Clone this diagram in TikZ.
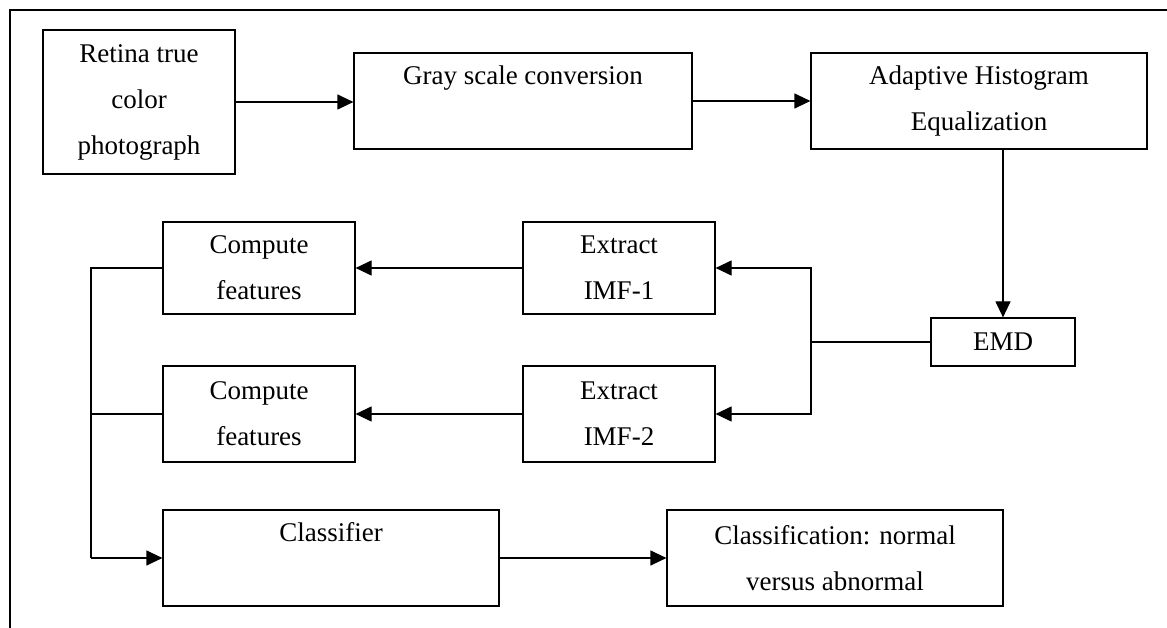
\documentclass[tikz,border=0pt]{standalone}
\usepackage{fontspec}
\setmainfont{Liberation Serif}
\usetikzlibrary{arrows.meta}
\begin{document}
\begin{tikzpicture}[x=1pt,y=-1pt,
  box/.style={draw, line width=1.2pt, inner sep=0pt, align=center,
    font=\fontsize{27pt}{46pt}\selectfont},
  conn/.style={line width=1.2pt},
  arr/.style={conn, -{Triangle[length=16pt,width=15pt]}}]
\useasboundingbox (0,0) rectangle (1167,628);
\draw[line width=1.3pt] (10,628) -- (10,10) -- (1167,10);
\node[box, minimum width=192pt, minimum height=144pt] (retina) at (139,102) {Retina true\\color\\photograph};
\node[box, minimum width=338pt, minimum height=96pt] (gray) at (523,101) {Gray scale conversion\\\phantom{Gy}};
\node[box, minimum width=336pt, minimum height=96pt] (ahe) at (979,101) {Adaptive Histogram\\Equalization};
\node[box, minimum width=144pt, minimum height=48pt] (emd) at (1003,342) {EMD};
\node[box, minimum width=192pt, minimum height=92pt] (ex1) at (619,268) {Extract\\IMF-1};
\node[box, minimum width=192pt, minimum height=96pt] (ex2) at (619,414) {Extract\\IMF-2};
\node[box, minimum width=192pt, minimum height=92pt] (cf1) at (259,268) {Compute\\features};
\node[box, minimum width=192pt, minimum height=96pt] (cf2) at (259,414) {Compute\\features};
\node[box, minimum width=336pt, minimum height=96pt] (cls) at (331,558) {Classifier\\\phantom{Gy}};
\node[box, minimum width=336pt, minimum height=96pt] (res) at (835,558) {Classification: normal\\versus abnormal};
\coordinate (bus) at (811,342);
\coordinate (lb) at (91,558);
\draw[arr] (retina.east) -- (retina.east -| gray.west);
\draw[arr] (gray) -- (ahe);
\draw[arr] (emd.north |- ahe.south) -- (emd.north);
\draw[conn] (emd.west) -- (bus);
\draw[arr] (bus) |- (ex1.east);
\draw[arr] (bus) |- (ex2.east);
\draw[arr] (ex1) -- (cf1);
\draw[arr] (ex2) -- (cf2);
\draw[conn] (cf1.west) -| (lb);
\draw[conn] (cf2.west) -- (cf2.west -| lb);
\draw[arr] (lb) -- (cls.west);
\draw[arr] (cls) -- (res);
\end{tikzpicture}
\end{document}
